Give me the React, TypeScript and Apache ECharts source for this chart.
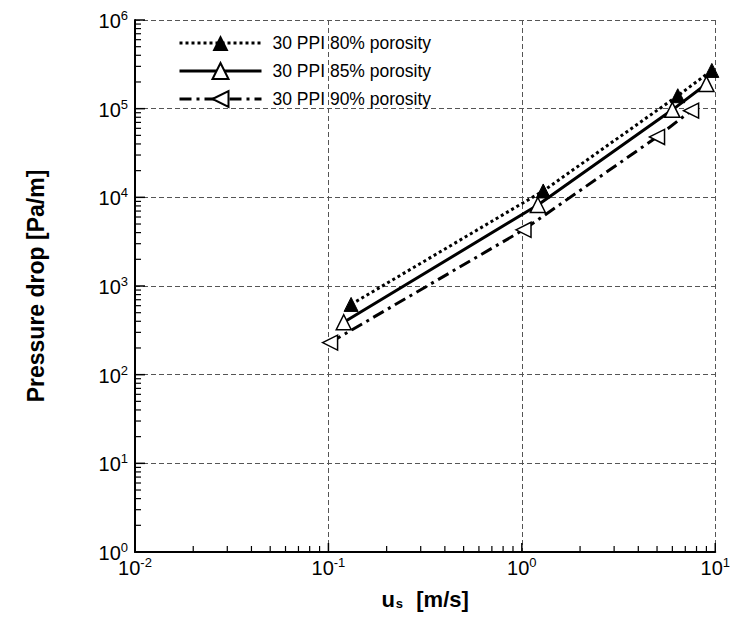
import React, { useEffect, useRef } from "react";
import * as echarts from "echarts";

// Superficial velocity u_s [m/s] and pressure drop [Pa/m]
const ppi80X = [0.131, 1.29, 6.4, 9.6];
const ppi80Y = [620, 11800, 140000, 270000];
const ppi85X = [0.12, 1.21, 6.0, 9.0];
const ppi85Y = [390, 8200, 97000, 190000];
const ppi90X = [0.102, 1.02, 5.0, 7.5];
const ppi90Y = [230, 4300, 48000, 95000];

const seriesNames = [
  "30 PPI 80% porosity",
  "30 PPI 85% porosity",
  "30 PPI 90% porosity",
];

// axis decoration: log ticks
const xDecades = [0.01, 0.1, 1, 10];
const yDecades = [1, 10, 100, 1000, 10000, 100000, 1000000];
const minorMultipliers = [2, 3, 4, 5, 6, 7, 8, 9];
const X_MIN = 0.01;
const X_MAX = 10;
const Y_MIN = 1;
const Y_MAX = 1000000;

const FONT = "Liberation Sans, Arial, sans-serif";

function pairs(xs: number[], ys: number[]) {
  return xs.map((x, i) => [x, ys[i]]);
}

const expLabel = (v: number) => {
  const e = Math.round(Math.log10(v));
  return `{b|10}{s|${e}}`;
};

const labelRich = {
  b: { fontSize: 20, fontFamily: FONT, color: "#000", verticalAlign: "bottom", lineHeight: 22 },
  s: {
    fontSize: 13,
    fontFamily: FONT,
    color: "#000",
    verticalAlign: "bottom",
    lineHeight: 13,
    padding: [0, 0, 9, 0],
  },
};

export default function App() {
  const ref = useRef<HTMLDivElement>(null);

  useEffect(() => {
    document.body.style.margin = "0";
    if (!ref.current) return;
    const chart = echarts.init(ref.current, undefined, { renderer: "svg" });

    const gridLine = {
      show: true,
      lineStyle: { color: "#555", type: [5, 3] as any, width: 1 },
    };

    chart.setOption({
      animation: false,
      backgroundColor: "#fff",
      grid: { left: 135, right: 15, top: 20, bottom: 74 },
      legend: {
        orient: "vertical",
        left: 173,
        top: 28,
        itemWidth: 82,
        itemHeight: 20,
        itemGap: 8,
        data: seriesNames,
        lineStyle: { width: 3 },
        textStyle: {
          fontSize: 17.5,
          lineHeight: 20,
          fontFamily: FONT,
          color: "#000",
          padding: [0, 0, 0, 6],
        },
        inactiveColor: "#000",
      },
      xAxis: {
        type: "log",
        logBase: 10,
        min: X_MIN,
        max: X_MAX,
        name: "{u|u}{sub|s}{u|  [m/s]}",
        nameLocation: "middle",
        nameGap: 36,
        nameTextStyle: {
          rich: {
            u: {
              fontSize: 22,
              fontWeight: "bold",
              fontFamily: FONT,
              color: "#000",
              lineHeight: 22,
              verticalAlign: "top",
            },
            sub: {
              fontSize: 13,
              fontWeight: "bold",
              fontFamily: FONT,
              color: "#000",
              lineHeight: 13,
              verticalAlign: "bottom",
              padding: [13, 1, 0, 1],
            },
          },
        },
        axisLine: { show: true, onZero: false, lineStyle: { color: "#000", width: 2 } },
        axisTick: { show: false },
        axisLabel: { formatter: expLabel, rich: labelRich, margin: 4 },
        splitLine: gridLine,
      },
      yAxis: {
        type: "log",
        logBase: 10,
        min: Y_MIN,
        max: Y_MAX,
        name: "Pressure drop [Pa/m]",
        nameLocation: "middle",
        nameGap: 88,
        nameRotate: 90,
        nameTextStyle: { fontSize: 23, fontWeight: "bold", fontFamily: FONT, color: "#000" },
        axisLine: { show: true, onZero: false, lineStyle: { color: "#000", width: 2 } },
        axisTick: { show: false },
        axisLabel: { formatter: expLabel, rich: labelRich, margin: 7 },
        splitLine: gridLine,
      },
      series: [
        {
          name: seriesNames[0],
          type: "line",
          data: pairs(ppi80X, ppi80Y),
          symbol: "triangle",
          symbolSize: 14,
          itemStyle: { color: "#000", borderColor: "#000" },
          lineStyle: { color: "#000", width: 3, type: [3, 3] },
          z: 5,
        },
        {
          name: seriesNames[1],
          type: "line",
          data: pairs(ppi85X, ppi85Y),
          symbol: "triangle",
          symbolSize: 15,
          itemStyle: { color: "#fff", borderColor: "#000", borderWidth: 1.5 },
          lineStyle: { color: "#000", width: 3, type: "solid" },
          z: 4,
        },
        {
          name: seriesNames[2],
          type: "line",
          data: pairs(ppi90X, ppi90Y),
          symbol: "triangle",
          symbolRotate: 90,
          symbolSize: 15,
          itemStyle: { color: "#fff", borderColor: "#000", borderWidth: 1.5 },
          lineStyle: { color: "#000", width: 3, type: [12, 5, 3, 5] },
          z: 3,
        },
      ],
    });

    // log-axis ticks, positioned through the chart's own scales
    const ticks: any[] = [];
    const addXTick = (v: number, len: number, w: number) => {
      const p = chart.convertToPixel({ gridIndex: 0 }, [v, Y_MIN]) as number[];
      ticks.push({
        type: "line",
        silent: true,
        z: 100,
        shape: { x1: p[0], y1: p[1], x2: p[0], y2: p[1] - len },
        style: { stroke: "#000", lineWidth: w },
      });
    };
    const addYTick = (v: number, len: number, w: number) => {
      const p = chart.convertToPixel({ gridIndex: 0 }, [X_MIN, v]) as number[];
      ticks.push({
        type: "line",
        silent: true,
        z: 100,
        shape: { x1: p[0], y1: p[1], x2: p[0] + len, y2: p[1] },
        style: { stroke: "#000", lineWidth: w },
      });
    };
    xDecades.forEach((d, i) => {
      addXTick(d, 9, 1.5);
      if (i < xDecades.length - 1) minorMultipliers.forEach((m) => addXTick(d * m, 6, 1.2));
    });
    yDecades.forEach((d, i) => {
      addYTick(d, 10, 1.5);
      if (i < yDecades.length - 1) minorMultipliers.forEach((m) => addYTick(d * m, 6, 1.2));
    });
    chart.setOption({ graphic: ticks });

    return () => chart.dispose();
  }, []);

  return <div ref={ref} style={{ width: 733, height: 626 }} />;
}
